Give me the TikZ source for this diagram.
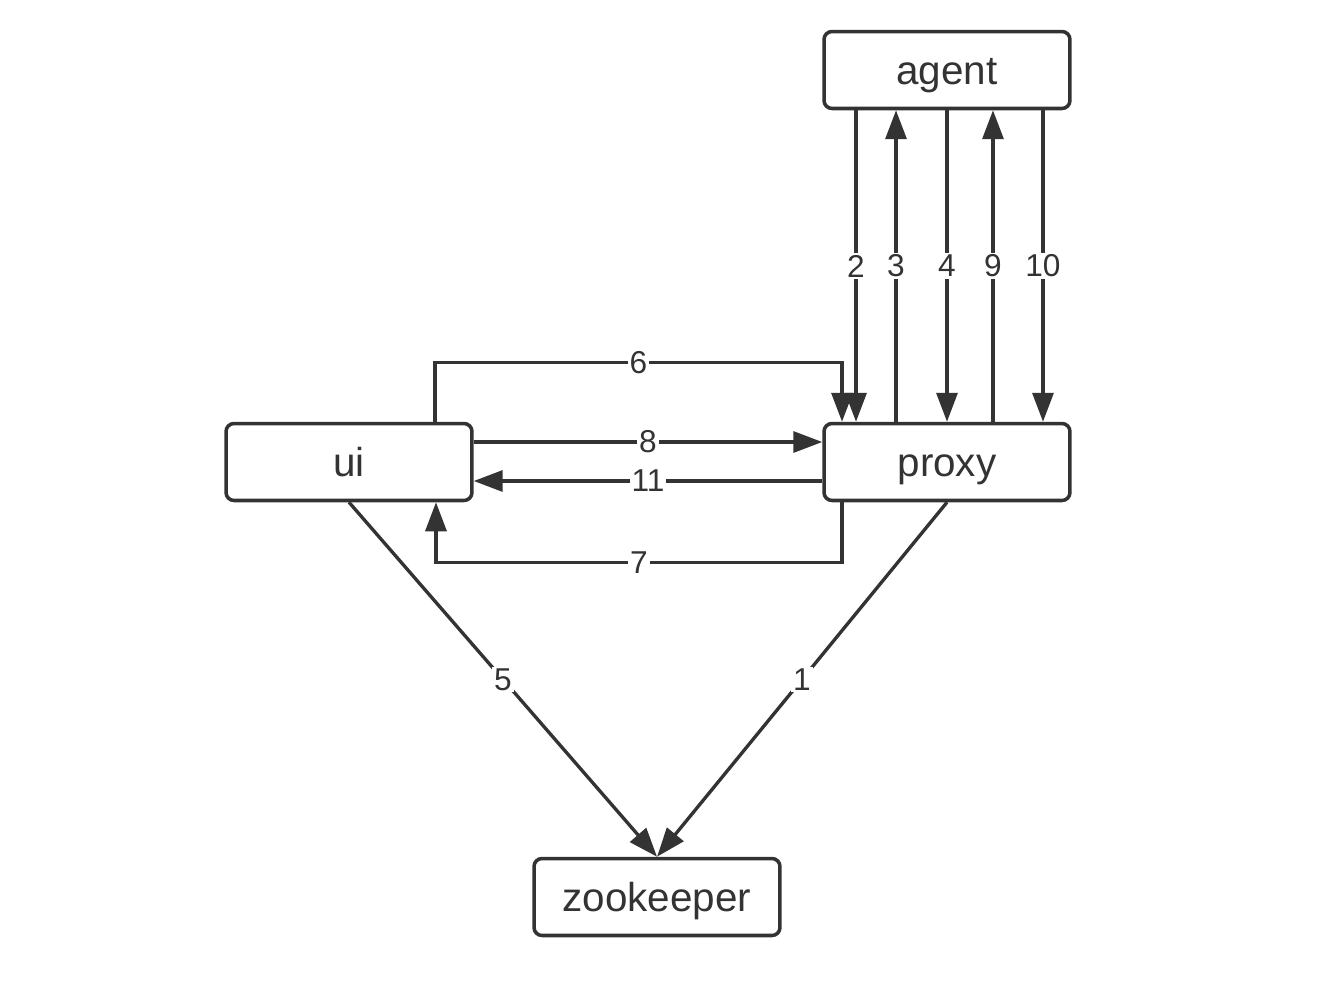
\documentclass[tikz,border=0pt]{standalone}
\usepackage{fontspec}
\setmainfont{Liberation Sans}
\usetikzlibrary{arrows.meta}
\definecolor{ink}{HTML}{333333}
\begin{document}
\begin{tikzpicture}[x=0.02cm,y=-0.02cm,
  box/.style={draw=ink,line width=2pt,rounded corners=0.16cm,minimum width=4.92cm,minimum height=1.54cm,text=ink,text height=19pt,text depth=3pt,font=\fontsize{23}{27}\selectfont},
  arr/.style={draw=ink,line width=1.9pt,-{Triangle[length=0.58cm,width=0.42cm]}},
  lbl/.style={fill=white,inner sep=1pt,text=ink,font=\fontsize{18}{22}\selectfont}]
\useasboundingbox (0,0) rectangle (1336,984);

\node[box] (agent) at (947,70) {agent};
\node[box] (ui) at (349,462) {ui};
\node[box] (proxy) at (947,462) {proxy};
\node[box] (zk) at (657,897) {zookeeper};

% agent <-> proxy
\draw[arr] ([xshift=-1.82cm]agent.south) -- node[lbl] {2} ([xshift=-1.82cm]proxy.north);
\draw[arr] ([xshift=-1.02cm]proxy.north) -- node[lbl] {3} ([xshift=-1.02cm]agent.south);
\draw[arr] (agent.south) -- node[lbl] {4} (proxy.north);
\draw[arr] ([xshift=0.92cm]proxy.north) -- node[lbl] {9} ([xshift=0.92cm]agent.south);
\draw[arr] ([xshift=1.92cm]agent.south) -- node[lbl] {10} ([xshift=1.92cm]proxy.north);

% ui <-> proxy
\draw[arr] ([xshift=1.72cm]ui.north) -- ++(0,-59) -| node[lbl,pos=0.25] {6} ([xshift=-2.1cm]proxy.north);
\draw[arr] ([yshift=0.4cm]ui.east) -- node[lbl] {8} ([yshift=0.4cm]proxy.west);
\draw[arr] ([yshift=-0.38cm]proxy.west) -- node[lbl] {11} ([yshift=-0.38cm]ui.east);
\draw[arr] ([xshift=-2.1cm]proxy.south) -- ++(0,60) -| node[lbl,pos=0.25] {7} ([xshift=1.74cm]ui.south);

% to zookeeper
\draw[arr] (ui.south) -- node[lbl] {5} (zk.north);
\draw[arr] (proxy.south) -- node[lbl] {1} (zk.north);

\end{tikzpicture}
\end{document}
